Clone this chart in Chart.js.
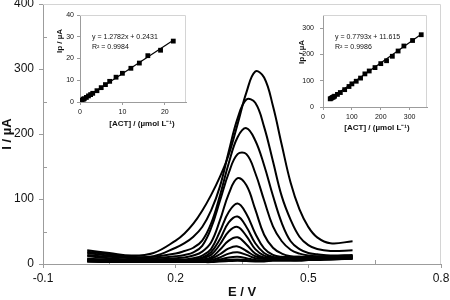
<!DOCTYPE html>
<html>
<head>
<meta charset="utf-8">
<script src="https://cdn.jsdelivr.net/npm/chart.js@4.4.1/dist/chart.umd.min.js"></script>
<style>
  html, body { margin: 0; padding: 0; background: #fff; }
  #wrap { position: relative; width: 450px; height: 300px; overflow: hidden; }
  canvas { position: absolute; }
  #main { left: 0; top: 0; }
  #inset1 { left: 50px; top: 5px; }
  #inset2 { left: 294px; top: 5px; }
</style>
</head>
<body>
<div id="wrap">
  <canvas id="main" width="450" height="300"></canvas>
  <canvas id="inset1" width="150" height="127"></canvas>
  <canvas id="inset2" width="146" height="130"></canvas>
</div>
<script>
// potential grid (V) shared by every voltammogram
const potential = [0, 0.05, 0.1, 0.15, 0.2, 0.22, 0.24, 0.26, 0.28, 0.30, 0.32, 0.34, 0.36, 0.38, 0.40, 0.42, 0.44, 0.46, 0.48, 0.50, 0.52, 0.55, 0.6];

// current (µA), largest concentration first
const cur1 = [21, 17, 13, 17, 36, 47, 62, 82, 106, 134, 168, 215, 264, 296, 287, 243, 183, 125, 84, 57, 41, 32, 35];
const cur2 = [19, 15, 11, 12, 25, 32, 42, 57, 82, 119, 173, 224, 253, 248, 211, 158, 104, 68, 42, 29, 23, 20, 21];
const cur3 = [17, 13, 10, 11, 16, 20, 25, 36, 62, 105, 155, 195, 209, 190, 152, 105, 63, 35, 23, 17, 15, 13, 14];
const cur4 = [14, 11, 9, 9, 12, 14, 18, 28, 55, 97, 140, 169, 169, 140, 98, 58, 35, 22, 16, 13, 12, 12, 13];
const cur5 = [12, 9, 7, 7, 9, 10, 13, 19, 33, 67, 108, 132, 121, 84, 45, 25, 16, 12, 11, 11, 11, 11, 12];
const cur6 = [8, 7, 6, 6, 7, 7, 9, 13, 23, 50, 80, 93, 77, 47, 24, 14, 11, 11, 11, 11, 11, 11, 12];
const cur7 = [7, 6, 5, 5, 6, 6, 7, 10, 18, 38, 64, 73, 57, 32, 17, 11, 10, 10, 10, 10, 10, 11, 11];
const cur8 = [7, 6, 5, 5, 5, 5, 6, 9, 14, 30, 50, 57, 43, 23, 13, 10, 10, 10, 10, 10, 10, 10, 11];
const cur9 = [6, 5, 4, 4, 4, 4, 5, 7, 10, 22, 36, 41, 30, 16, 10, 9, 9, 9, 9, 9, 9, 10, 10];
const cur10 = [6, 5, 4, 4, 4, 4, 4, 5, 8, 15, 24, 27, 20, 12, 9, 9, 9, 9, 9, 9, 9, 9, 10];
const cur11 = [5, 4, 4, 4, 4, 4, 4, 4, 6, 10, 16, 18, 14, 9, 8, 8, 8, 8, 8, 8, 8, 9, 9];
const cur12 = [5, 4, 3, 3, 3, 3, 3, 3, 4, 7, 10, 11, 9, 6, 6, 7, 7, 7, 7, 7, 8, 8, 9];
const cur13 = [4, 3, 3, 3, 3, 3, 3, 3, 3, 5, 6.5, 7, 6, 5, 5, 6, 6, 6, 6, 7, 7, 7, 8];
const cur14 = [4, 3, 3, 3, 3, 3, 3, 3, 3, 4, 4.5, 5, 4.5, 4, 4, 5, 5, 5, 5, 6, 6, 7, 8];
const curves = [cur1, cur2, cur3, cur4, cur5, cur6, cur7, cur8, cur9, cur10, cur11, cur12, cur13, cur14];

const xTicks = [-0.1, 0.2, 0.5, 0.8];
const xMinor = [0.05, 0.35, 0.65];
const yTicks = [0, 100, 200, 300, 400];
const yMinor = [50, 150, 250, 350];

// low-concentration calibration
const lowConc = [0.1, 0.3, 0.5, 0.8, 1, 1.5, 2, 2.5, 3, 4, 5, 6, 7, 8.5, 10, 12, 14, 16, 19, 22];
const lowIp = [0.4, 0.6, 0.9, 1.3, 1.5, 2.1, 2.8, 3.4, 4.0, 5.2, 6.6, 8.0, 9.5, 11.4, 13.2, 15.5, 17.9, 21.3, 23.8, 28.0];
const lowFitX = [0, 22];
const lowFitY = [0.24, 28.36];
const lowXTicks = [0, 10, 20];
const lowYTicks = [0, 10, 20, 30, 40];
const lowText = ["y = 1.2782x + 0.2431", "R² = 0.9984"];

// high-concentration calibration
const highConc = [25, 28, 32, 36, 40, 50, 60, 75, 90, 100, 115, 130, 145, 160, 180, 200, 220, 240, 260, 280, 310, 340];
const highIp = [31, 33, 36, 38, 41, 48, 55, 66, 78, 88, 98, 110, 126, 137, 150, 165, 176, 193, 213, 232, 253, 275];
const highFitX = [25, 340];
const highFitY = [31.1, 276.6];
const highXTicks = [0, 100, 200, 300];
const highYTicks = [0, 100, 200, 300];
const highText = ["y = 0.7793x + 11.615", "R² = 0.9986"];

const FONT = '"Liberation Sans", Arial, sans-serif';
const AXIS_GREY = "#9c9c9c";
const FRAME_GREY = "#d4d4d4";
const INK = "#111";

const pairs = (xs, ys) => xs.map((x, i) => ({ x, y: ys[i] }));
const pinTicks = (values) => (scale) => { scale.ticks = values.map((v) => ({ value: v })); };

// light frame on top/right, inward minor ticks, and (for insets) notes + titles
function frame(minorX, minorY, len, extra) {
  return {
    id: "frame",
    beforeDatasetsDraw(chart) {
      const { ctx, chartArea: a, scales } = chart;
      ctx.save();
      ctx.lineWidth = 1;
      ctx.strokeStyle = FRAME_GREY;
      ctx.beginPath();
      ctx.moveTo(a.left, Math.round(a.top) + 0.5);
      ctx.lineTo(Math.round(a.right) - 0.5, Math.round(a.top) + 0.5);
      ctx.lineTo(Math.round(a.right) - 0.5, a.bottom);
      ctx.stroke();
      ctx.strokeStyle = AXIS_GREY;
      ctx.beginPath();
      minorX.forEach((v) => {
        const px = Math.round(scales.x.getPixelForValue(v)) + 0.5;
        ctx.moveTo(px, a.bottom);
        ctx.lineTo(px, a.bottom - len);
      });
      minorY.forEach((v) => {
        const py = Math.round(scales.y.getPixelForValue(v)) + 0.5;
        ctx.moveTo(a.left, py);
        ctx.lineTo(a.left + len, py);
      });
      ctx.stroke();
      if (extra) {
        ctx.fillStyle = INK;
        ctx.font = "7px " + FONT;
        ctx.textBaseline = "middle";
        extra.notes.forEach((t, i) => ctx.fillText(t, a.left + 12, a.top + 22 + i * 10));
        ctx.font = "bold 8px " + FONT;
        ctx.textAlign = "center";
        ctx.fillText("[ACT] / (µmol L⁻¹)", extra.xTitle[0], extra.xTitle[1]);
        ctx.translate(extra.yTitle[0], extra.yTitle[1]);
        ctx.rotate(-Math.PI / 2);
        ctx.fillText("Ip / µA", 0, 0);
      }
      ctx.restore();
    },
  };
}

function axis(opts) {
  return {
    type: "linear",
    min: opts.min,
    max: opts.max,
    afterBuildTicks: pinTicks(opts.ticks),
    afterFit: opts.fit,
    grid: { drawOnChartArea: false, drawTicks: true, tickLength: opts.tickLength, color: AXIS_GREY },
    border: { color: AXIS_GREY },
    ticks: {
      autoSkip: false, maxRotation: 0, padding: opts.padding, color: INK,
      font: { family: FONT, size: opts.size },
      callback: opts.format || ((v) => String(v)),
    },
    title: {
      display: !!opts.title, text: opts.title || "", color: INK,
      font: { family: FONT, size: opts.titleSize || 8, weight: "bold" },
      padding: opts.titlePad || 0,
    },
  };
}

new Chart(document.getElementById("main"), {
  type: "line",
  data: {
    datasets: curves.map((c) => ({
      data: pairs(potential, c),
      borderColor: "#000", borderWidth: 2, pointRadius: 0, tension: 0.4, fill: false,
    })),
  },
  options: {
    responsive: false, animation: false,
    layout: { padding: { top: 4, right: 9, left: 0, bottom: 0 } },
    plugins: { legend: { display: false }, tooltip: { enabled: false } },
    scales: {
      x: axis({
        min: -0.1, max: 0.8, ticks: xTicks, tickLength: 4, padding: 3, size: 12,
        title: "E / V", titleSize: 13, titlePad: { top: 0, bottom: 0 },
        format: (v) => Number(v).toFixed(1),
        fit: (s) => { s.height = 36; s.paddingLeft = 0; s.paddingRight = 0; },
      }),
      y: axis({
        min: 0, max: 400, ticks: yTicks, tickLength: 4, padding: 5, size: 12,
        title: "I / µA", titleSize: 13, titlePad: { top: 0, bottom: 0 },
        fit: (s) => { s.width = 43; s.paddingTop = 0; s.paddingBottom = 0; },
      }),
    },
  },
  plugins: [frame(xMinor, yMinor, 4)],
});

function inset(id, cfg) {
  new Chart(document.getElementById(id), {
    type: "scatter",
    data: {
      datasets: [
        { type: "line", data: pairs(cfg.fitX, cfg.fitY), borderColor: "#000", borderWidth: 1.2, pointRadius: 0 },
        { data: pairs(cfg.x, cfg.y), pointStyle: "rect", pointRadius: 3.4, backgroundColor: "#000", borderColor: "#000", borderWidth: 0 },
      ],
    },
    options: {
      responsive: false, animation: false,
      layout: { padding: { top: 10, right: cfg.right, left: 0, bottom: 0 } },
      plugins: { legend: { display: false }, tooltip: { enabled: false } },
      scales: {
        x: axis({
          min: 0, max: cfg.xMax, ticks: cfg.xTicks, tickLength: 3, padding: 3, size: 7,
          fit: (s) => { s.height = cfg.xHeight; s.paddingLeft = 0; s.paddingRight = 0; },
        }),
        y: axis({
          min: 0, max: cfg.yMax, ticks: cfg.yTicks, tickLength: 3, padding: cfg.yPad, size: 7,
          fit: (s) => { s.width = cfg.yWidth; s.paddingTop = 0; s.paddingBottom = 0; },
        }),
      },
    },
    plugins: [frame([], [], 0, { notes: cfg.notes, xTitle: cfg.xTitle, yTitle: cfg.yTitle })],
  });
}

inset("inset1", {
  x: lowConc, y: lowIp, fitX: lowFitX, fitY: lowFitY, xTicks: lowXTicks, yTicks: lowYTicks,
  xMax: 25, yMax: 40, right: 14, xHeight: 30, yWidth: 30, yPad: 3, notes: lowText,
  xTitle: [92, 119], yTitle: [10, 36],
});

inset("inset2", {
  x: highConc, y: highIp, fitX: highFitX, fitY: highFitY, xTicks: highXTicks, yTicks: highYTicks,
  xMax: 360, yMax: 350, right: 13, xHeight: 28, yWidth: 29, yPad: 6, notes: highText,
  xTitle: [83, 123], yTitle: [8, 47],
});
</script>
</body>
</html>
